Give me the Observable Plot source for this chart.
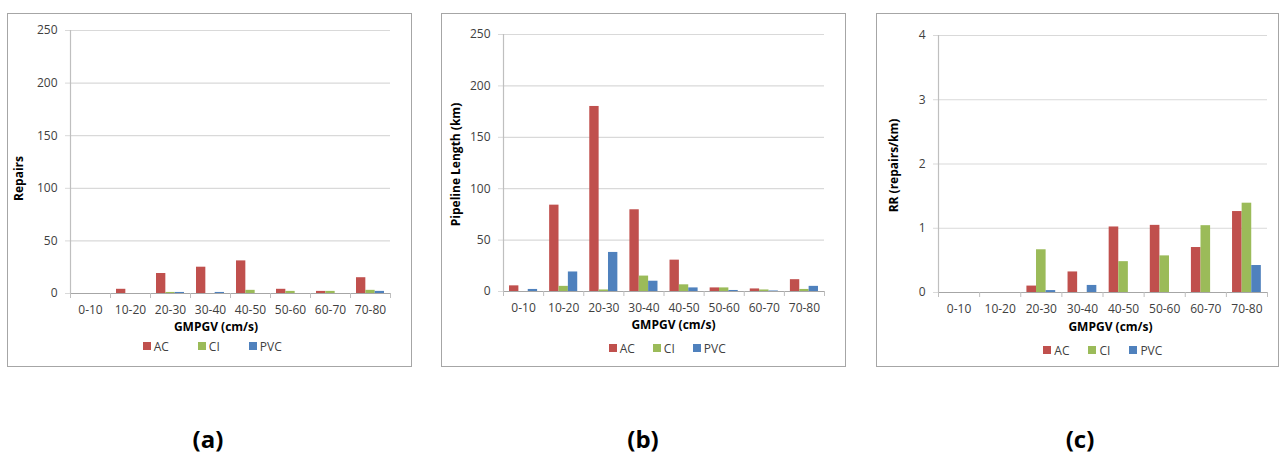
<!DOCTYPE html>
<html>
<head>
<meta charset="utf-8">
<script src="https://cdn.jsdelivr.net/npm/d3@7"></script>
<script src="https://cdn.jsdelivr.net/npm/@observablehq/plot@0.6"></script>
<style>
  html, body { margin: 0; padding: 0; background: #fff; }
  #root { position: relative; width: 1279px; height: 454px; overflow: hidden; background: #fff; font-family: "Open Sans", sans-serif; }
  .box { position: absolute; box-sizing: border-box; border: 1.5px solid #a6a6a6; }
  .plotwrap { position: absolute; }
  .legwrap { position: absolute; height: 16px; }
  .cap { position: absolute; font: bold 24px "Open Sans", sans-serif; line-height: 24px; color: #000; transform: translateX(-50%); white-space: nowrap; }
</style>
</head>
<body>
<div id="root"></div>
<script>
// ---- data ----
const categories = ["0-10", "10-20", "20-30", "30-40", "40-50", "50-60", "60-70", "70-80"];
const series = ["AC", "CI", "PVC"];
const seriesColors = ["#C0504D", "#9BBB59", "#4F81BD"];

const repairsAC  = [0, 4, 19, 25, 31, 4, 2, 15];
const repairsCI  = [0, 0, 1, 0, 3, 2, 2, 3];
const repairsPVC = [0, 0, 1, 1, 0, 0, 0, 2];

const lengthAC  = [5.5, 84, 180, 79.5, 30.5, 3.5, 2.5, 11.5];
const lengthCI  = [0, 5, 1.5, 15, 6.5, 3.5, 1.5, 2];
const lengthPVC = [2, 19, 38, 10, 3.5, 1, 0.5, 5];

const rrAC  = [0, 0, 0.1, 0.32, 1.02, 1.045, 0.7, 1.26];
const rrCI  = [0, 0, 0.665, 0, 0.48, 0.57, 1.04, 1.39];
const rrPVC = [0, 0, 0.03, 0.11, 0, 0, 0, 0.42];

const repairsTicks = [0, 50, 100, 150, 200, 250];
const lengthTicks  = [0, 50, 100, 150, 200, 250];
const rrTicks      = [0, 1, 2, 3, 4];

const xTitle = "GMPGV (cm/s)";
const yTitles = ["Repairs", "Pipeline Length (km)", "RR (repairs/km)"];
const captions = ["(a)", "(b)", "(c)"];

// ---- layout (page pixel coordinates) ----
const panels = [
  { values: [repairsAC, repairsCI, repairsPVC], ticks: repairsTicks, yTitle: yTitles[0], caption: captions[0],
    box: {l: 7, t: 13, r: 412, b: 367}, plot: {l: 70, r: 390, t: 30, b: 293},
    yLab: [19, 178], xLab: [215.5, 326.5], leg: {x: 142.7, y: 346, gap: 29}, capX: 208 },
  { values: [lengthAC, lengthCI, lengthPVC], ticks: lengthTicks, yTitle: yTitles[1], caption: captions[1],
    box: {l: 441, t: 13, r: 846, b: 367}, plot: {l: 503, r: 824, t: 34, b: 291},
    yLab: [456, 164], xLab: [673, 325], leg: {x: 608.7, y: 348, gap: 18}, capX: 643 },
  { values: [rrAC, rrCI, rrPVC], ticks: rrTicks, yTitle: yTitles[2], caption: captions[2],
    box: {l: 876, t: 13, r: 1279, b: 367}, plot: {l: 938, r: 1267, t: 35, b: 292},
    yLab: [894, 165], xLab: [1110, 326.5], leg: {x: 1043.3, y: 350, gap: 19}, capX: 1080 }
];

const root = document.getElementById("root");
const SVG_H = 335;
const PAD = 0.15;                 // category padding fraction each side
const BW = (1 - 2 * PAD) / series.length; // bar width fraction
const gridColor = "#d9d9d9";
const axisColor = "#bfbfbf";
const textColor = "#404040";
let css = "";

panels.forEach((p, k) => {
  const rows = [];
  p.values.forEach((arr, s) => arr.forEach((v, i) => rows.push({i, s, series: series[s], v})));

  const W = p.box.r - p.box.l;
  const marginLeft = p.plot.l - p.box.l;
  const marginRight = p.box.r - p.plot.r;
  const marginTop = p.plot.t - p.box.t;
  const marginBottom = SVG_H - (p.plot.b - p.box.t);
  const plotCx = (p.plot.l + p.plot.r) / 2;
  const plotCy = (p.plot.t + p.plot.b) / 2;
  const yMax = p.ticks[p.ticks.length - 1];

  const chart = Plot.plot({
    width: W, height: SVG_H,
    marginLeft, marginRight, marginTop, marginBottom,
    style: {fontFamily: "'Open Sans', sans-serif", fontSize: "12px", color: textColor, background: "transparent", overflow: "visible"},
    x: {domain: [0, categories.length], label: null},
    y: {domain: [0, yMax], label: null},
    color: {domain: series, range: seriesColors},
    marks: [
      Plot.gridY(p.ticks.filter(t => t > 0), {stroke: gridColor, strokeOpacity: 1, strokeWidth: 1.2}),
      Plot.axisY({ticks: p.ticks, tickSize: 5, tickPadding: 8, tickFormat: d => String(d), stroke: gridColor, fill: textColor, label: null}),
      Plot.rectY(rows, {
        x1: d => d.i + PAD + d.s * BW,
        x2: d => d.i + PAD + (d.s + 1) * BW,
        y: "v", fill: "series"
      }),
      Plot.ruleX([0], {stroke: axisColor, strokeWidth: 1.2}),
      Plot.ruleY([0], {stroke: "#a6a6a6", strokeWidth: 1.2}),
      Plot.axisX({ticks: d3.range(0, categories.length + 1), tickSize: 5, tickFormat: () => "", stroke: axisColor, label: null}),
      Plot.axisX({ticks: d3.range(categories.length).map(i => i + 0.5), tickSize: 0, tickPadding: 12,
                  tickFormat: t => categories[Math.floor(t)], fill: textColor, label: null}),
      Plot.text([xTitle], {frameAnchor: "bottom", text: d => d, lineAnchor: "middle", textAnchor: "middle",
                           dx: p.xLab[0] - plotCx, dy: p.xLab[1] - p.plot.b,
                           fontWeight: "bold", fontSize: 12, fill: "#000"}),
      Plot.text([p.yTitle], {frameAnchor: "left", text: d => d, rotate: -90, lineAnchor: "middle", textAnchor: "middle",
                             dx: p.yLab[0] - p.plot.l, dy: p.yLab[1] - plotCy,
                             fontWeight: "bold", fontSize: 12, fill: "#000"})
    ]
  });

  const border = document.createElement("div");
  border.className = "box";
  Object.assign(border.style, {left: p.box.l + "px", top: p.box.t + "px", width: (p.box.r - p.box.l) + "px", height: (p.box.b - p.box.t) + "px"});
  root.appendChild(border);

  const wrap = document.createElement("div");
  wrap.className = "plotwrap";
  Object.assign(wrap.style, {left: p.box.l + "px", top: p.box.t + "px"});
  wrap.appendChild(chart);
  root.appendChild(wrap);

  const cls = "lg" + "abc"[k];
  const legend = Plot.legend({color: {domain: series, range: seriesColors}, legend: "swatches", swatchSize: 8, className: cls});
  const lw = document.createElement("div");
  lw.className = "legwrap";
  Object.assign(lw.style, {left: p.leg.x + "px", top: (p.leg.y - 8) + "px"});
  lw.appendChild(legend);
  root.appendChild(lw);
  css += `.${cls}-swatches{margin:0!important;min-height:16px!important;height:16px;font-family:'Open Sans',sans-serif!important;font-size:12px!important;color:${textColor};flex-wrap:nowrap!important;}
  .${cls}-swatch{margin-right:${p.leg.gap}px!important;}
  .${cls}-swatch > svg{margin-right:3px!important;}`;

  const cap = document.createElement("div");
  cap.className = "cap";
  cap.textContent = p.caption;
  Object.assign(cap.style, {left: p.capX + "px", top: "427px"});
  root.appendChild(cap);
});

const st = document.createElement("style");
st.textContent = css;
document.head.appendChild(st);
</script>
</body>
</html>
